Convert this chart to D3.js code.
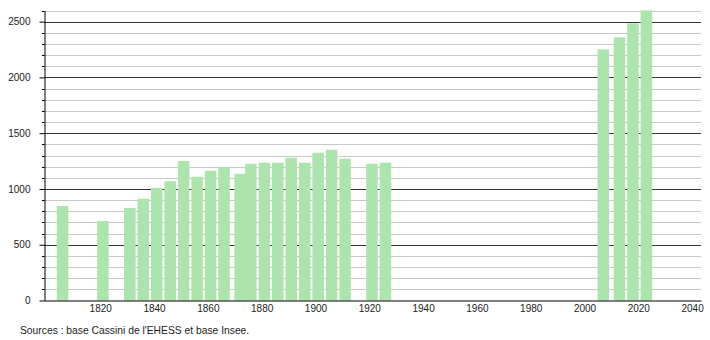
<!DOCTYPE html>
<html>
<head>
<meta charset="utf-8">
<script src="https://cdn.jsdelivr.net/npm/d3@7"></script>
<style>
  html, body { margin: 0; padding: 0; background: #fff; }
  svg { display: block; font-family: "Liberation Sans", Arial, sans-serif; }
</style>
</head>
<body>
<svg id="chart" width="710" height="340"></svg>
<script>
const years = [1806, 1821, 1831, 1836, 1841, 1846, 1851, 1856, 1861, 1866, 1872, 1876, 1881, 1886, 1891, 1896, 1901, 1906, 1911, 1921, 1926, 2007, 2013, 2018, 2023];
const population = [848, 713, 830, 911, 1010, 1070, 1250, 1109, 1163, 1196, 1136, 1226, 1235, 1235, 1280, 1235, 1325, 1352, 1271, 1226, 1235, 2251, 2359, 2485, 2601];
const xTicks = [1820, 1840, 1860, 1880, 1900, 1920, 1940, 1960, 1980, 2000, 2020, 2040];
const yMajorTicks = [0, 500, 1000, 1500, 2000, 2500];
const sourceText = "Sources : base Cassini de l'EHESS et base Insee.";

const svg = d3.select("#chart");
const x = d3.scaleLinear().domain([1799.1, 2043.3]).range([44, 701]);
const y = d3.scaleLinear().domain([0, 2600]).range([300.5, 10.5]);
const barW = x(1800 + 4.3) - x(1800);

const minor = d3.range(100, 2601, 100).filter(v => v % 500 !== 0);

// minor grid
svg.append("g").selectAll("line").data(minor).join("line")
  .attr("x1", 44).attr("x2", 701)
  .attr("y1", d => Math.round(y(d)) + 0.5).attr("y2", d => Math.round(y(d)) + 0.5)
  .attr("stroke", "#c8c8c8").attr("stroke-width", 1);
// major grid
svg.append("g").selectAll("line").data(yMajorTicks.filter(d => d > 0)).join("line")
  .attr("x1", 44).attr("x2", 701)
  .attr("y1", d => Math.round(y(d)) + 0.5).attr("y2", d => Math.round(y(d)) + 0.5)
  .attr("stroke", "#333").attr("stroke-width", 1);

// bars
svg.append("g").selectAll("rect").data(years).join("rect")
  .attr("x", (d) => x(d) - barW / 2)
  .attr("width", barW)
  .attr("y", (d, i) => y(population[i]))
  .attr("height", (d, i) => y(0) - y(population[i]))
  .attr("fill", "#ade4ad");

// y axis
const yAxis = d3.axisLeft(y).tickValues(yMajorTicks).tickFormat(d3.format("d"))
  .tickSize(5).tickSizeOuter(0).tickPadding(9);
const gy = svg.append("g").attr("transform", "translate(44.5,0)").call(yAxis);
gy.select(".domain").attr("stroke", "#000");
gy.selectAll(".tick line").attr("stroke", "#000");
gy.selectAll("text").attr("font-size", 10).attr("fill", "#222")
  .attr("font-family", "Liberation Sans, Arial, sans-serif");
// minor y ticks
svg.append("g").selectAll("line").data(minor).join("line")
  .attr("x1", 42).attr("x2", 44.5)
  .attr("y1", d => Math.round(y(d)) + 0.5).attr("y2", d => Math.round(y(d)) + 0.5)
  .attr("stroke", "#000");

// x axis
const xAxis = d3.axisBottom(x).tickValues(xTicks).tickFormat(d3.format("d"))
  .tickSize(0).tickSizeOuter(0).tickPadding(4);
const gx = svg.append("g").attr("transform", "translate(0,300.5)").call(xAxis);
gx.select(".domain").attr("stroke", "#000");
gx.selectAll("text").attr("font-size", 10).attr("fill", "#222")
  .attr("font-family", "Liberation Sans, Arial, sans-serif");

svg.append("text").attr("x", 20).attr("y", 333.5)
  .attr("font-size", 10.3).attr("fill", "#222").text(sourceText);
</script>
</body>
</html>
